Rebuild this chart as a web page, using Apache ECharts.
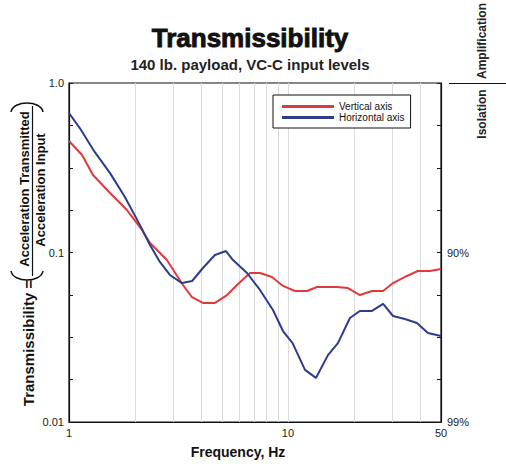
<!DOCTYPE html>
<html>
<head>
<meta charset="utf-8">
<script src="https://cdn.jsdelivr.net/npm/echarts@6.0.0/dist/echarts.min.js"></script>
<style>
  html, body { margin: 0; padding: 0; background: #fff; }
  #chart { width: 506px; height: 466px; }
</style>
</head>
<body>
<div id="chart"></div>
<script>
// Transmissibility vs frequency.
const horizFreq = [1, 1.12, 1.31, 1.54, 1.8, 2.11, 2.34, 2.6, 2.89, 3.28, 3.65, 4.09, 4.64, 5.21,
  5.61, 6.5, 7.45, 8.54, 9.49, 10.5, 11.96, 13.42, 15.23, 16.91, 19.19, 21.3, 24.2, 27.2, 30.2,
  34.2, 38.8, 43.6, 50];
const horizT = [0.665, 0.542, 0.392, 0.294, 0.2125, 0.145, 0.111, 0.088, 0.0737, 0.066, 0.0679,
  0.081, 0.0967, 0.102, 0.0903, 0.0757, 0.0601, 0.0458, 0.0344, 0.0292, 0.0203, 0.0182, 0.0248,
  0.0292, 0.0411, 0.0452, 0.0452, 0.0497, 0.0422, 0.0405, 0.0384, 0.0335, 0.0322];

const vertFreq = [1, 1.147, 1.287, 1.54, 1.84, 2.154, 2.344, 2.8, 3.315, 3.645, 4.09, 4.64, 5.27,
  5.85, 6.71, 7.45, 8.45, 9.49, 10.76, 12.21, 13.57, 16.74, 18.79, 21.3, 24.2, 27.2, 30.2, 34.95,
  39.2, 44.5, 50];
const vertT = [0.455, 0.376, 0.2866, 0.2244, 0.178, 0.1358, 0.1138, 0.0903, 0.0643, 0.0546, 0.0504,
  0.0504, 0.0561, 0.0643, 0.0757, 0.0757, 0.0717, 0.0635, 0.0593, 0.0593, 0.0626, 0.0626, 0.0617,
  0.0561, 0.0593, 0.0593, 0.066, 0.0727, 0.0778, 0.0778, 0.0799];

// axis ticks / labels
const xLabelValues = [1, 10, 50];
const xGridValues = [2, 3, 4, 5, 6, 7, 8, 9, 10, 20, 30, 40];
const yLabelValues = [0.01, 0.1, 1];
const yTickValues = [0.01, 0.0178, 0.0316, 0.0562, 0.1, 0.178, 0.316, 0.562, 1];
const isolationLabels = { 0.1: '90%', 0.01: '99%' };

const FONT = '"Liberation Sans", Arial, Helvetica, sans-serif';
const INK = '#1a1a1a';

const zip = (xs, ys) => xs.map((x, i) => [x, ys[i]]);

// rotated (bottom-to-top) text block for the side captions
const vtext = (text, x, y, font, fill) => ({
  type: 'text', x, y, rotation: Math.PI / 2,
  style: { text, font: font + ' ' + FONT, fill: fill || '#111',
    textAlign: 'center', textVerticalAlign: 'middle', align: 'center', verticalAlign: 'middle' },
});

const chart = echarts.init(document.getElementById('chart'), null, { renderer: 'svg' });

const yTickStyle = {
  show: true, inside: true, length: 4,
  customValues: yTickValues,
  lineStyle: { color: INK, width: 1 },
};

chart.setOption({
  animation: false,
  backgroundColor: '#fff',
  textStyle: { fontFamily: FONT, color: INK },
  title: {
    text: 'Transmissibility',
    subtext: '140 lb. payload, VC-C input levels',
    left: 250, top: 25, textAlign: 'center', padding: 0, itemGap: 5,
    textStyle: { fontFamily: FONT, fontSize: 26, fontWeight: 900, color: '#111',
      textBorderColor: '#111', textBorderWidth: 0.9 },
    subtextStyle: { fontFamily: FONT, fontSize: 15, fontWeight: 'bold', color: '#222' },
  },
  legend: {
    data: ['Vertical axis', 'Horizontal axis'],
    orient: 'vertical',
    left: 273, top: 95,
    padding: [6, 6, 5, 9],
    itemGap: 0,
    itemWidth: 52, itemHeight: 3,
    icon: 'rect',
    backgroundColor: '#fff',
    borderColor: '#111', borderWidth: 1,
    textStyle: { fontFamily: FONT, fontSize: 10, color: '#111', lineHeight: 11 },
  },
  grid: {
    left: 69, right: 65, top: 83, bottom: 44,
    show: true, borderColor: '#111', borderWidth: 1.2, backgroundColor: 'transparent',
  },
  xAxis: {
    type: 'log', logBase: 10, min: 1, max: 50,
    name: 'Frequency, Hz', nameLocation: 'middle', nameGap: 23,
    nameTextStyle: { fontFamily: FONT, fontSize: 14, fontWeight: 'bold', color: '#111', padding: [0, 34, 0, 0] },
    axisLine: { show: true, lineStyle: { color: '#111', width: 1.2 } },
    axisTick: { show: false, customValues: xGridValues },
    axisLabel: { customValues: xLabelValues, margin: 5, fontSize: 11, color: INK, fontFamily: FONT },
    splitLine: { show: true, lineStyle: { color: '#dcdcdc', width: 1 } },
    minorTick: { show: false }, minorSplitLine: { show: false },
  },
  yAxis: [
    {
      type: 'log', logBase: 10, min: 0.01, max: 1, position: 'left',
      axisLine: { show: true, lineStyle: { color: '#111', width: 1.2 } },
      axisTick: yTickStyle,
      axisLabel: {
        customValues: yLabelValues, margin: 5, fontSize: 11, color: INK, fontFamily: FONT,
        formatter: v => (v >= 1 ? '1.0' : String(v)),
      },
      splitLine: { show: false },
    },
    {
      type: 'log', logBase: 10, min: 0.01, max: 1, position: 'right',
      axisLine: { show: true, lineStyle: { color: '#111', width: 1.2 } },
      axisTick: yTickStyle,
      axisLabel: {
        customValues: [0.01, 0.1], margin: 6, fontSize: 11, color: INK, fontFamily: FONT,
        formatter: v => isolationLabels[v] || '',
      },
      splitLine: { show: false },
    },
  ],
  series: [
    {
      name: 'Vertical axis', type: 'line', data: zip(vertFreq, vertT),
      symbol: 'none', color: '#e03a3d', lineStyle: { width: 2 }, z: 3,
    },
    {
      name: 'Horizontal axis', type: 'line', data: zip(horizFreq, horizT),
      symbol: 'none', color: '#2f3c8c', lineStyle: { width: 2 }, z: 4,
    },
  ],
  graphic: [
    // y-axis name: Transmissibility = ( Acceleration Transmitted / Acceleration Input )
    vtext('Transmissibility =', 28, 343, 'bold 15px'),
    { type: 'bezierCurve',
      shape: { x1: 11, y1: 271, cpx1: 13, cpy1: 283, cpx2: 41, cpy2: 283, x2: 43, y2: 271 },
      style: { stroke: '#111', lineWidth: 1.5, fill: null } },
    vtext('Acceleration Transmitted', 24, 189, 'bold 13px'),
    { type: 'line', shape: { x1: 32.5, y1: 106, x2: 32.5, y2: 276 },
      style: { stroke: '#111', lineWidth: 1.2 } },
    vtext('Acceleration Input', 40, 190, 'bold 13px'),
    { type: 'bezierCurve',
      shape: { x1: 11, y1: 112, cpx1: 13, cpy1: 100, cpx2: 41, cpy2: 100, x2: 43, y2: 112 },
      style: { stroke: '#111', lineWidth: 1.5, fill: null } },
    // isolation / amplification marker at top right
    vtext('Amplification', 482, 41, 'bold 12px', '#222'),
    vtext('Isolation', 482, 114, 'bold 12px', '#222'),
    { type: 'line', shape: { x1: 449, y1: 83.5, x2: 506, y2: 83.5 },
      style: { stroke: '#111', lineWidth: 1 } },
  ],
});
</script>
</body>
</html>
